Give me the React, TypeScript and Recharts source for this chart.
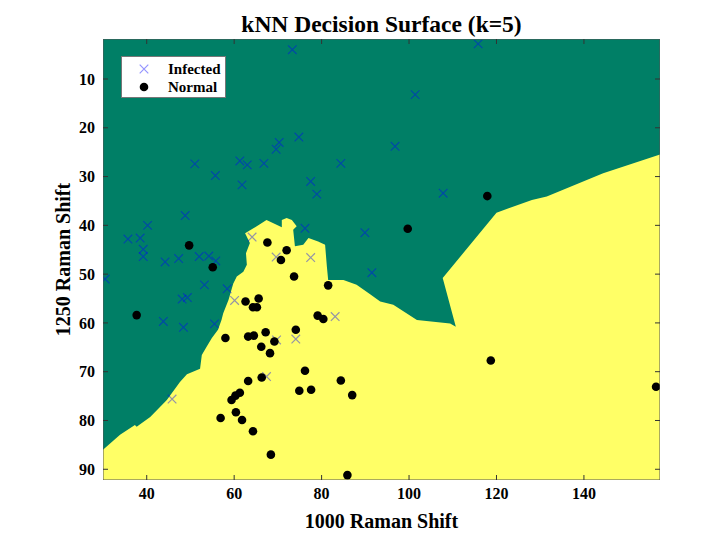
import { ScatterChart, Scatter, XAxis, YAxis, CartesianGrid, Legend } from "recharts";

const xDomain = [30, 157.4];
const yDomain = [1.8, 92.2];
const xTicks = [40, 60, 80, 100, 120, 140];
const yTicks = [10, 20, 30, 40, 50, 60, 70, 80, 90];

// Infected samples (1000 / 1250 Raman shift)
const infectedX = [
  73.3, 115.8, 101.4, 74.8, 96.8, 84.4, 77.5, 78.9, 107.8, 70.3, 69.6, 51.0, 55.7, 61.3, 63.0, 66.8,
  61.8, 48.8, 40.2, 35.7, 38.5, 39.2, 39.2, 44.2, 47.3, 52.0, 54.2, 55.8, 30.5, 53.2, 58.4, 48.1,
  49.3, 43.8, 48.4, 55.5, 64.1, 69.6, 60.1, 76.2, 89.9, 91.5, 77.5, 83.1, 69.7, 74.1, 67.4, 45.8,
];
const infectedY = [
  4.0, 2.8, 13.2, 21.9, 23.8, 27.3, 31.0, 33.6, 33.4, 23.0, 24.4, 27.4, 29.8, 26.8, 27.6, 27.3,
  31.7, 38.0, 40.0, 42.8, 42.6, 44.9, 46.4, 47.5, 46.8, 46.4, 46.3, 47.3, 51.0, 52.2, 53.0, 55.1,
  54.8, 59.7, 60.9, 60.2, 42.4, 46.5, 55.4, 40.6, 41.5, 49.7, 46.6, 58.7, 63.5, 63.3, 71.0, 75.6,
];

// Normal samples
const normalX = [
  49.7, 55.1, 37.7, 67.6, 72.0, 70.7, 73.7, 62.6, 65.6, 64.3, 65.2, 74.1, 58.0, 81.5, 79.1, 80.4,
  63.2, 64.5, 67.2, 66.2, 69.2, 68.2, 76.2, 84.4, 87.0, 74.9, 77.6, 63.2, 66.3, 61.3, 60.3, 59.4,
  60.4, 56.9, 61.8, 64.3, 68.4, 85.9, 99.7, 117.9, 118.7, 156.5,
];
const normalY = [
  44.1, 48.6, 58.4, 43.5, 45.1, 47.1, 50.5, 55.6, 55.0, 56.8, 56.8, 61.4, 63.1, 52.3, 58.5, 59.2,
  62.8, 62.6, 61.9, 64.9, 63.8, 66.2, 69.8, 71.8, 74.8, 73.9, 73.7, 71.9, 71.2, 74.3, 74.9, 75.8,
  78.3, 79.5, 79.9, 82.2, 87.0, 91.2, 40.7, 34.0, 67.7, 73.1,
];

// outline of the "Normal" decision region
const surfaceX = [
  30, 30, 33.9, 37.3, 37.7, 40.8, 44.6, 47.6, 49.2, 52.2, 52.6, 53.7, 54.9, 56.3, 57.1, 57.5, 58.7,
  59.8, 60.6, 62.1, 62.9, 62.7, 63.6, 62.5, 64.4, 67.4, 69.7, 70.9, 70.9, 72.0, 73.2, 74.3, 73.5,
  73.9, 75.8, 77.0, 79.2, 80.8, 81.2, 81.5, 85.0, 88.0, 91.1, 93.4, 96.4, 101.8, 109.4, 110.7,
  107.7, 120.0, 128.1, 131.5, 143.7, 144.4, 157.4, 157.4,
];
const surfaceY = [
  92.2, 86.0, 82.9, 80.9, 81.3, 79.3, 75.8, 72.1, 70.5, 69.4, 66.6, 64.9, 63.1, 61.4, 59.4, 58.0, 55.3,
  51.9, 50.5, 49.5, 48.1, 45.7, 43.6, 41.6, 40.6, 38.9, 39.9, 40.4, 38.9, 38.5, 38.9, 40.2, 40.9,
  44.3, 44.0, 42.6, 43.3, 44.0, 48.4, 51.2, 51.2, 52.2, 54.1, 55.6, 56.3, 59.4, 60.1, 60.8,
  50.8, 37.4, 34.8, 34.1, 29.6, 29.3, 25.5, 92.2,
];

const infected = infectedX.map((x, i) => ({ x, y: infectedY[i] }));
const normal = normalX.map((x, i) => ({ x, y: normalY[i] }));
const surface = surfaceX.map((x, i) => ({ x, y: surfaceY[i] }));

// axes box and inward tick marks, placed through the chart scales
const frame = [
  { x: xDomain[0], y: yDomain[0] },
  { x: xDomain[1], y: yDomain[0] },
  { x: xDomain[1], y: yDomain[1] },
  { x: xDomain[0], y: yDomain[1] },
];
const bottomTicks = xTicks.map((x) => ({ x, y: yDomain[1] }));
const topTicks = xTicks.map((x) => ({ x, y: yDomain[0] }));
const leftTicks = yTicks.map((y) => ({ x: xDomain[0], y }));
const rightTicks = yTicks.map((y) => ({ x: xDomain[1], y }));

const GREEN = "#007F66";
const YELLOW = "#FFFF66";
const AXIS = "#555";
const FONT = '"Liberation Serif", "Times New Roman", serif';
const TICK_LEN = 5;

function Cross({ cx, cy }: any) {
  const s = 4.3;
  return (
    <path
      d={`M${cx - s},${cy - s}L${cx + s},${cy + s}M${cx - s},${cy + s}L${cx + s},${cy - s}`}
      stroke="#0000FF"
      strokeOpacity={0.42}
      strokeWidth={1.2}
      fill="none"
    />
  );
}

function Dot({ cx, cy }: any) {
  return <circle cx={cx} cy={cy} r={4.3} fill="#000" />;
}

function Region(props: any) {
  const pts = (props.points || []).map((p: any) => `${p.x},${p.y}`).join(" ");
  return <polygon points={pts} fill={YELLOW} stroke="none" />;
}

function Box(props: any) {
  const pts = (props.points || []).map((p: any) => `${p.x},${p.y}`).join(" ");
  return <polygon points={pts} fill="none" stroke={AXIS} strokeWidth={1} />;
}

const tickMark = (dx: number, dy: number) => (p: any) =>
  <line x1={p.cx} y1={p.cy} x2={p.cx + dx} y2={p.cy + dy} stroke="#333" strokeWidth={1} />;

function LegendBox() {
  return (
    <div
      style={{
        width: 105,
        height: 42,
        background: "#fff",
        border: "1px solid #777",
        boxSizing: "border-box",
        fontFamily: FONT,
        fontWeight: "bold",
        fontSize: 15,
        color: "#000",
        position: "relative",
      }}
    >
      <svg width={30} height={40} style={{ position: "absolute", left: 10, top: 0 }}>
        <Cross cx={12} cy={12} />
        <Dot cx={12} cy={30} />
      </svg>
      <div style={{ position: "absolute", left: 46, top: 3, lineHeight: "18px" }}>Infected</div>
      <div style={{ position: "absolute", left: 46, top: 21, lineHeight: "18px" }}>Normal</div>
    </div>
  );
}

export default function App() {
  const tickStyle = { fontSize: 16, fontWeight: "bold", fill: "#000", fontFamily: FONT };
  return (
    <div
      style={{
        position: "absolute",
        left: 0,
        top: 0,
        width: 702,
        height: 539,
        background: "#fff",
        fontFamily: FONT,
      }}
    >
      <div
        style={{
          position: "absolute",
          left: 103,
          width: 557,
          top: 13,
          textAlign: "center",
          fontSize: 23.5,
          lineHeight: "23px",
          fontWeight: "bold",
          color: "#000",
        }}
      >
        kNN Decision Surface (k=5)
      </div>
      <ScatterChart width={702} height={539} margin={{ top: 39, right: 42, bottom: 0, left: 0 }}>
        <CartesianGrid horizontal={false} vertical={false} fill={GREEN} fillOpacity={1} />
        <XAxis
          type="number"
          dataKey="x"
          domain={xDomain}
          allowDataOverflow
          ticks={xTicks}
          height={59}
          tickSize={-5}
          tickMargin={13}
          axisLine={false}
          tickLine={false}
          tick={tickStyle}
          label={() => (
            <text
              x={381.5}
              y={528}
              textAnchor="middle"
              style={{ fontSize: 20, fontWeight: "bold", fontFamily: FONT }}
              fill="#000"
            >
              1000 Raman Shift
            </text>
          )}
        />
        <YAxis
          type="number"
          dataKey="y"
          domain={yDomain}
          allowDataOverflow
          reversed
          ticks={yTicks}
          width={103}
          tickSize={-5}
          tickMargin={13}
          axisLine={false}
          tickLine={false}
          tick={tickStyle}
          label={() => (
            <text
              x={63}
              y={259.5}
              textAnchor="middle"
              dominantBaseline="central"
              transform="rotate(-90 63 259.5)"
              style={{ fontSize: 20, fontWeight: "bold", fontFamily: FONT }}
              fill="#000"
            >
              1250 Raman Shift
            </text>
          )}
        />
        <Scatter
          name="surface"
          data={surface}
          isAnimationActive={false}
          shape={() => <g />}
          line={(p: any) => <Region {...p} />}
          legendType="none"
        />
        <Scatter name="Infected" data={infected} isAnimationActive={false} shape={(p: any) => <Cross {...p} />} />
        <Scatter name="Normal" data={normal} isAnimationActive={false} shape={(p: any) => <Dot {...p} />} />
        <Scatter
          name="box"
          data={frame}
          isAnimationActive={false}
          shape={() => <g />}
          line={(p: any) => <Box {...p} />}
          legendType="none"
        />
        <Scatter name="tb" data={bottomTicks} isAnimationActive={false} shape={tickMark(0, -TICK_LEN)} legendType="none" />
        <Scatter name="tt" data={topTicks} isAnimationActive={false} shape={tickMark(0, TICK_LEN)} legendType="none" />
        <Scatter name="tl" data={leftTicks} isAnimationActive={false} shape={tickMark(TICK_LEN, 0)} legendType="none" />
        <Scatter name="tr" data={rightTicks} isAnimationActive={false} shape={tickMark(-TICK_LEN, 0)} legendType="none" />
        <Legend
          layout="vertical"
          align="center"
          verticalAlign="middle"
          wrapperStyle={{ left: 121, top: 56, width: 105 }}
          content={() => <LegendBox />}
        />
      </ScatterChart>
    </div>
  );
}
